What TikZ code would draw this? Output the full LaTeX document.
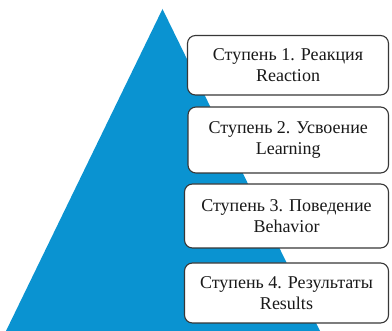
\documentclass[tikz,border=0pt]{standalone}
\usepackage{fontspec}
\setmainfont{Liberation Serif}
\newfontfamily\tmsfont{Liberation Serif}
\definecolor{triblue}{RGB}{10,147,209}
\definecolor{boxline}{RGB}{55,55,55}
\begin{document}
\begin{tikzpicture}[x=1pt,y=1pt,
  stagebox/.style={draw=boxline, line width=1.1pt, fill=white, rounded corners=8pt,
    align=center, inner sep=0pt,
    font=\tmsfont\fontsize{18}{21}\selectfont, text=black!90}]
\useasboundingbox (0,0) rectangle (392,331);
\fill[triblue] (6,0) -- (162.5,322) -- (320,0) -- cycle;
\node[stagebox, minimum width=201pt, minimum height=59.5pt] (s1) at (288,265.75) {Ступень 1. Реакция\\Reaction};
\node[stagebox, minimum width=200.5pt, minimum height=66pt] (s2) at (288.25,191) {Ступень 2. Усвоение\\Learning};
\node[stagebox, minimum width=204pt, minimum height=64pt] (s3) at (286.5,115) {Ступень 3. Поведение\\Behavior};
\node[stagebox, minimum width=204pt, minimum height=60pt] (s4) at (286.5,38) {Ступень 4. Результаты\\Results};
\end{tikzpicture}
\end{document}
